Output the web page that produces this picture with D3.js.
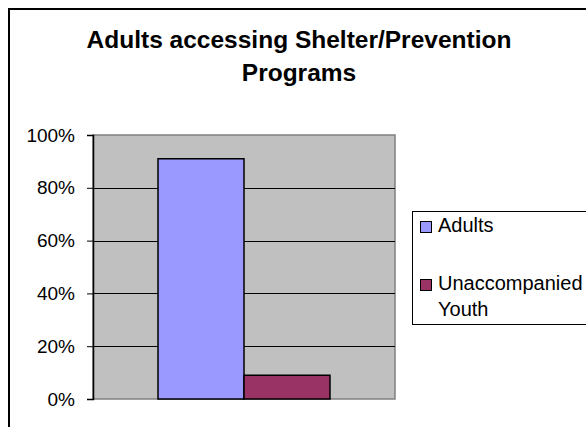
<!DOCTYPE html>
<html>
<head>
<meta charset="utf-8">
<script src="https://cdn.jsdelivr.net/npm/d3@7"></script>
<style>
  body { margin: 0; background: #fff; }
  svg { display: block; font-family: 'Liberation Sans', Arial, sans-serif; }
</style>
</head>
<body>
<div id="chart"></div>
<script>
const titleLines = ['Adults accessing Shelter/Prevention', 'Programs']
const categories = ['Adults', 'Unaccompanied Youth']
const values = [0.91, 0.09]
const colors = ['#9999FF', '#993366']
const yTicks = [0, 0.2, 0.4, 0.6, 0.8, 1.0]

let svgWidth = 586,
  svgHeight = 427
let plot = { left: 93, top: 135, right: 395, bottom: 399 }

let svg = d3
  .select('#chart')
  .append('svg')
  .attr('width', svgWidth)
  .attr('height', svgHeight)

// outer chart frame (only top and left visible)
svg
  .append('path')
  .attr('d', 'M9,' + svgHeight + ' V9 H' + svgWidth)
  .attr('fill', 'none')
  .attr('stroke', '#000')
  .attr('stroke-width', 2)

// title
svg
  .append('g')
  .selectAll('text')
  .data(titleLines)
  .enter()
  .append('text')
  .attr('x', 299)
  .attr('y', (d, i) => 48 + i * 33)
  .attr('text-anchor', 'middle')
  .style('font-size', '24.5px')
  .style('font-weight', 'bold')
  .text((d) => d)

// scales
let y = d3.scaleLinear().domain([0, 1]).range([plot.bottom, plot.top])
let x0 = d3
  .scaleBand()
  .domain(['all'])
  .range([plot.left, plot.right])
  .paddingInner(0)
  .paddingOuter(0.378)
let x1 = d3.scaleBand().domain(categories).range([0, x0.bandwidth()])

// plot area
svg
  .append('rect')
  .attr('x', plot.left)
  .attr('y', plot.top)
  .attr('width', plot.right - plot.left)
  .attr('height', plot.bottom - plot.top)
  .attr('fill', '#C0C0C0')
  .attr('stroke', '#808080')
  .attr('stroke-width', 1.5)

// gridlines
svg
  .append('g')
  .selectAll('line')
  .data(yTicks.filter((d) => d > 0 && d < 1))
  .enter()
  .append('line')
  .attr('x1', plot.left)
  .attr('x2', plot.right)
  .attr('y1', (d) => Math.round(y(d)) + 0.5)
  .attr('y2', (d) => Math.round(y(d)) + 0.5)
  .attr('stroke', '#000')
  .attr('stroke-width', 1)

// bars
svg
  .append('g')
  .selectAll('rect')
  .data(values)
  .enter()
  .append('rect')
  .attr('x', (d, i) => x0('all') + x1(categories[i]))
  .attr('y', (d) => y(d))
  .attr('width', x1.bandwidth())
  .attr('height', (d) => y(0) - y(d))
  .attr('fill', (d, i) => colors[i])
  .attr('stroke', '#000')
  .attr('stroke-width', 1.5)

// y axis
let yAxis = d3
  .axisLeft(y)
  .tickValues(yTicks)
  .tickFormat(d3.format('.0%'))
  .tickSize(6)
  .tickPadding(12)

let ax = svg
  .append('g')
  .attr('transform', 'translate(' + plot.left + ',0)')
  .call(yAxis)
ax.select('.domain').attr('stroke', '#000').attr('stroke-width', 1.5)
ax.selectAll('.tick line').attr('stroke', '#000')
ax.selectAll('.tick text')
  .attr('fill', '#000')
  .style('font-size', '19px')
  .style('font-family', "'Liberation Sans', Arial, sans-serif")

// legend
let legend = svg.append('g')
legend
  .append('rect')
  .attr('x', 412.5)
  .attr('y', 211.5)
  .attr('width', 180)
  .attr('height', 113)
  .attr('fill', '#fff')
  .attr('stroke', '#000')
  .attr('stroke-width', 1)

let legendLabels = [['Adults'], ['Unaccompanied', 'Youth']]
let items = legend
  .selectAll('.item')
  .data(categories)
  .enter()
  .append('g')
  .attr('class', 'item')
  .attr('transform', (d, i) => 'translate(420,' + (i === 0 ? 232 : 290) + ')')

items
  .append('rect')
  .attr('x', 0.5)
  .attr('y', -10.5)
  .attr('width', 11)
  .attr('height', 11)
  .attr('fill', (d, i) => colors[i])
  .attr('stroke', '#000')

items
  .selectAll('text')
  .data((d, i) => legendLabels[i])
  .enter()
  .append('text')
  .attr('x', 18)
  .attr('y', (d, j) => j * 26)
  .style('font-size', '20px')
  .text((d) => d)
</script>
</body>
</html>
